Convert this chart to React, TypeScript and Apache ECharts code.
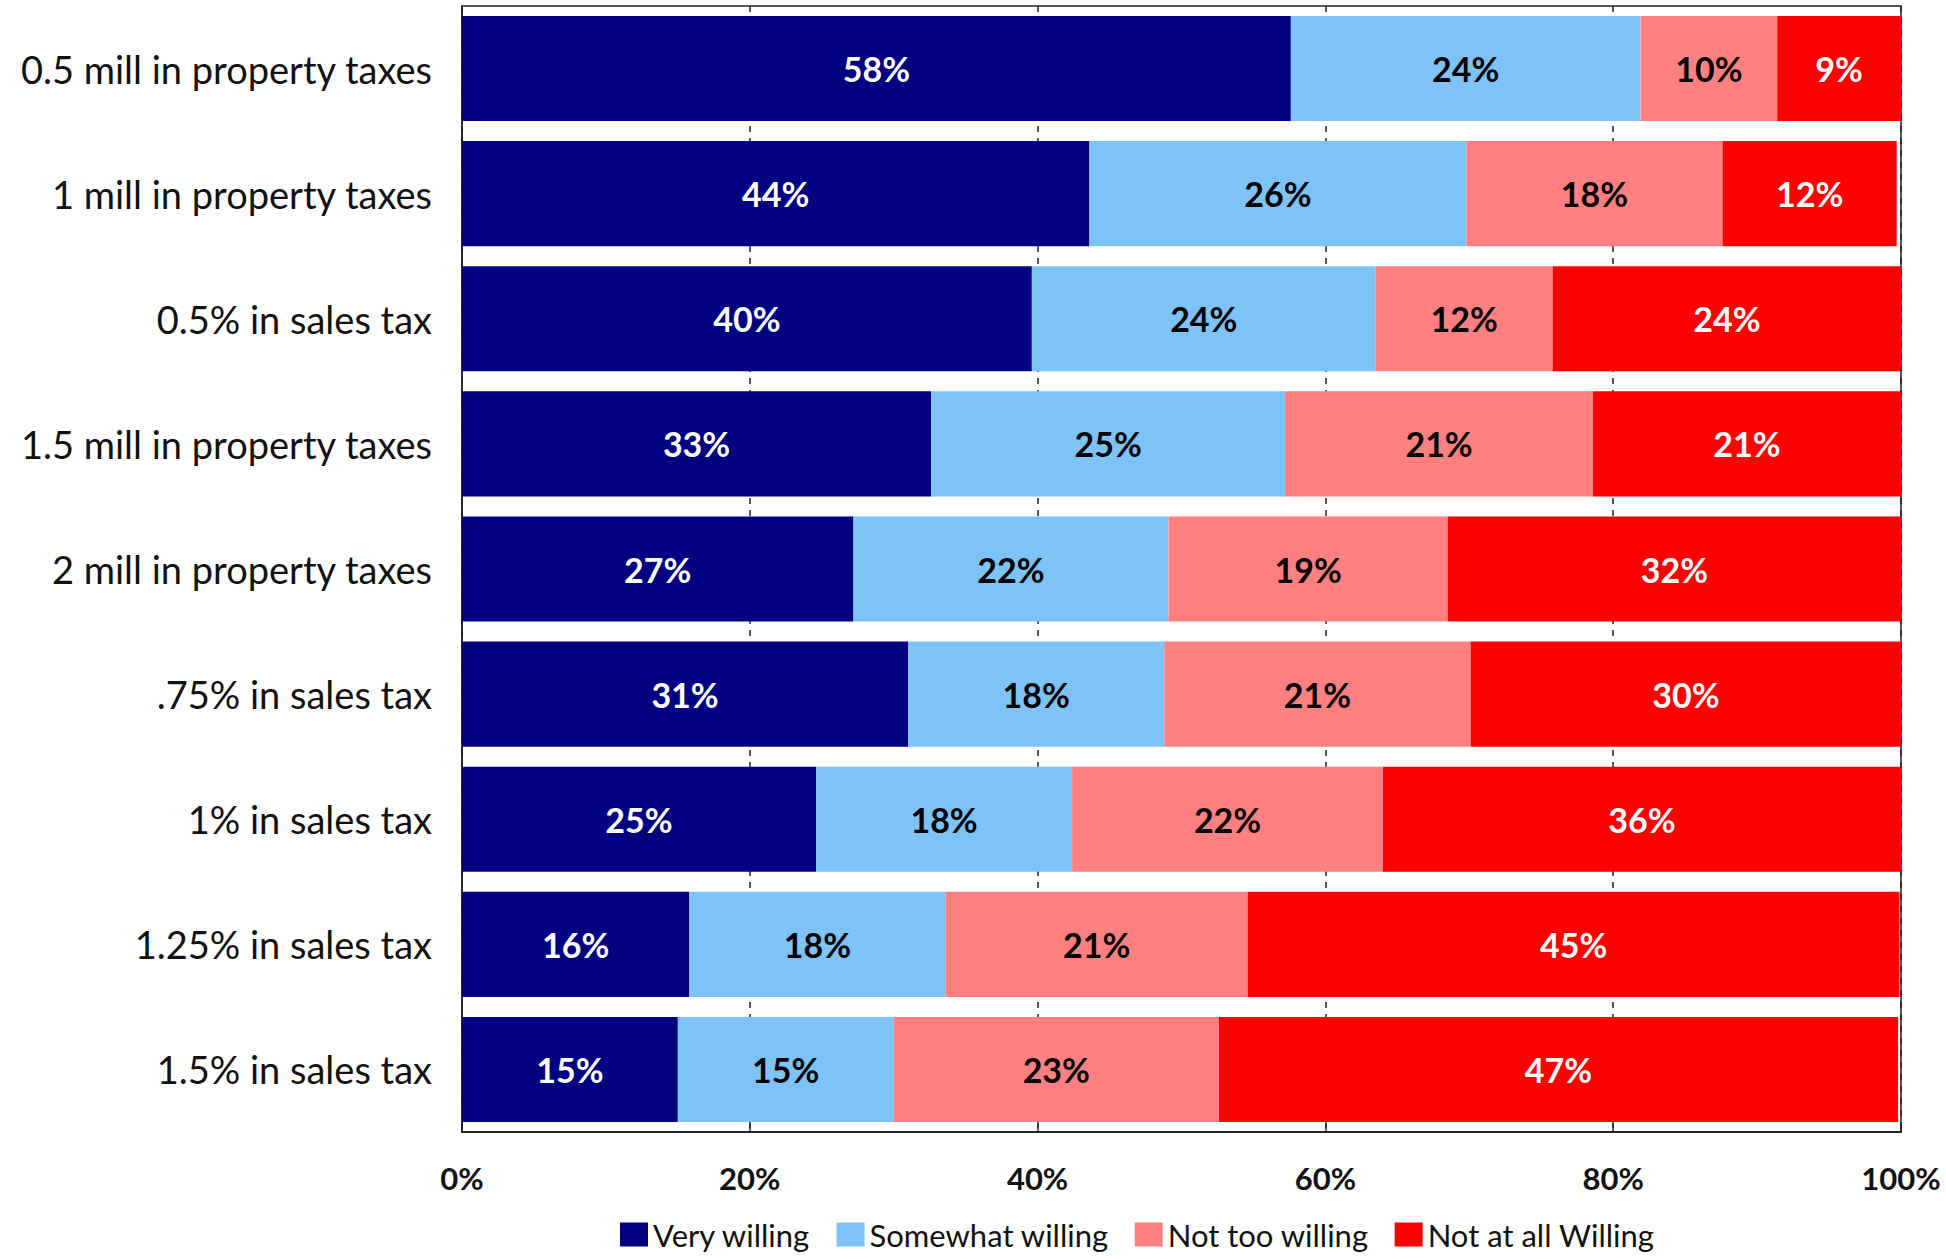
import React, { useEffect, useRef } from "react";
import * as echarts from "echarts";

const categories = [
  "0.5 mill in property taxes",
  "1 mill in property taxes",
  "0.5% in sales tax",
  "1.5 mill in property taxes",
  "2 mill in property taxes",
  ".75% in sales tax",
  "1% in sales tax",
  "1.25% in sales tax",
  "1.5% in sales tax",
];
const veryWilling = [57.6, 43.6, 39.6, 32.6, 27.2, 31.0, 24.6, 15.8, 15.0];
const somewhatWilling = [24.3, 26.2, 23.9, 24.6, 21.9, 17.8, 17.8, 17.8, 15.0];
const notTooWilling = [9.5, 17.8, 12.3, 21.4, 19.4, 21.3, 21.6, 21.0, 22.6];
const notAtAllWilling = [8.6, 12.1, 24.2, 21.4, 31.6, 29.9, 36.0, 45.3, 47.2];
const xTicks = [0, 20, 40, 60, 80, 100];

const FONT = "Lato, 'Open Sans', sans-serif";

export default function App() {
  const ref = useRef<HTMLDivElement>(null);
  useEffect(() => {
    if (!ref.current) return;
    const chart = echarts.init(ref.current, null, { renderer: "svg" });
    const mk = (name: string, data: number[], color: string, labelColor: string) => ({
      name,
      type: "bar",
      stack: "total",
      data,
      barCategoryGap: "16%",
      itemStyle: { color },
      label: {
        show: true,
        position: "inside",
        color: labelColor,
        fontFamily: FONT,
        fontWeight: "bold",
        fontSize: 34,
        formatter: (p: any) => Math.round(p.value) + "%",
      },
    });
    chart.setOption({
      animation: false,
      textStyle: { fontFamily: FONT },
      grid: { left: 462, right: 45, top: 6, bottom: 127, show: true, borderColor: "#222", borderWidth: 1.5, containLabel: false },
      legend: {
        left: 620,
        top: 1219,
        itemWidth: 28,
        itemHeight: 24,
        itemGap: 26,
        icon: "rect",
        padding: 0,
        textStyle: { fontFamily: FONT, fontSize: 31, color: "#111" },
        data: ["Very willing", "Somewhat willing", "Not too willing", "Not at all Willing"],
      },
      xAxis: {
        type: "value",
        min: xTicks[0],
        max: xTicks[xTicks.length - 1],
        interval: 20,
        axisLine: { show: true, lineStyle: { color: "#222", width: 2 } },
        axisTick: { show: true, inside: true, length: 8, lineStyle: { color: "#222", width: 1.5 } },
        splitLine: { show: true, lineStyle: { color: "#222", type: [6, 6], width: 1.5 } },
        axisLabel: {
          margin: 30,
          fontFamily: FONT,
          fontWeight: "bold",
          fontSize: 31,
          color: "#111",
          formatter: (v: number) => v + "%",
        },
      },
      yAxis: {
        type: "category",
        inverse: true,
        data: categories,
        axisLine: { show: true, lineStyle: { color: "#222", width: 1.5 } },
        axisTick: { show: false },
        axisLabel: { margin: 30, fontFamily: FONT, fontSize: 38, color: "#111" },
      },
      series: [
        mk("Very willing", veryWilling, "#000080", "#ffffff"),
        mk("Somewhat willing", somewhatWilling, "#7DC3F7", "#000000"),
        mk("Not too willing", notTooWilling, "#FF8080", "#000000"),
        mk("Not at all Willing", notAtAllWilling, "#FF0000", "#ffffff"),
      ],
    });
    return () => chart.dispose();
  }, []);
  return <div ref={ref} style={{ position: "fixed", left: 0, top: 0, width: 1946, height: 1259, background: "#fff" }} />;
}
